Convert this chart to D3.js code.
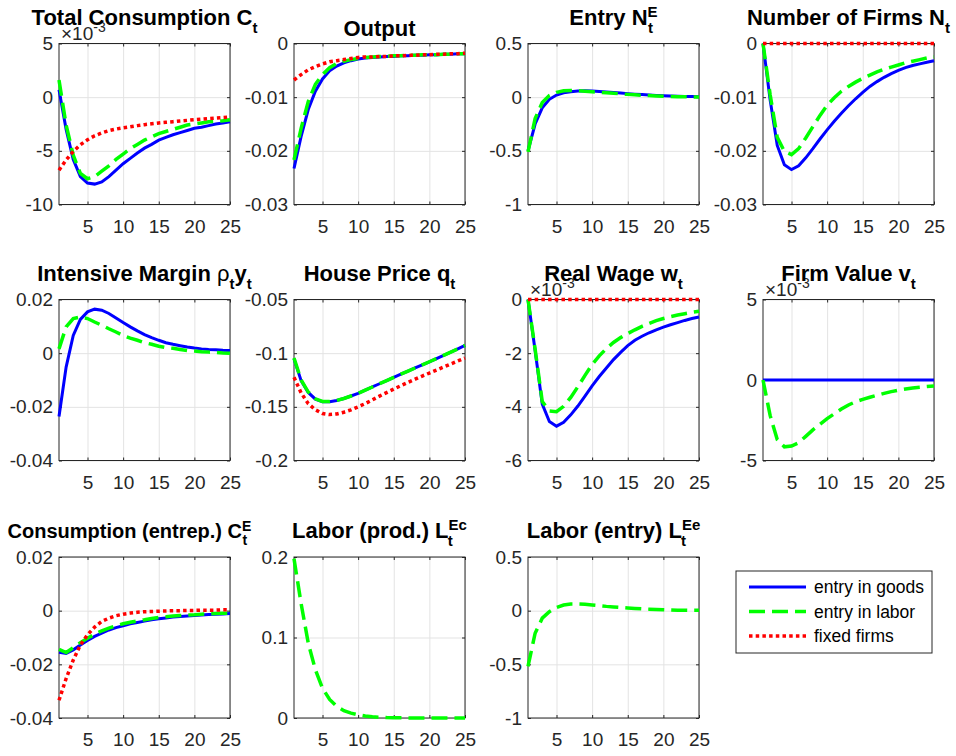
<!DOCTYPE html>
<html lang="en">
<head>
<meta charset="UTF-8">
<title>Impulse responses</title>
<script src="https://cdn.jsdelivr.net/npm/d3@7"></script>
<style>
  body { margin: 0; background: #fff; }
  svg { font-family: "Liberation Sans", Arial, sans-serif; }
  .title { font-weight: bold; fill: #000; }
  .goods { fill: none; stroke: #0000ff; stroke-width: 3; }
  .labor { fill: none; stroke: #00ff00; stroke-width: 3.5; stroke-dasharray: 16 7; }
  .fixed { fill: none; stroke: #ff0000; stroke-width: 3.5; stroke-dasharray: 3.5 3.2; }
</style>
</head>
<body>
<script>
// horizon
const periods = [1,2,3,4,5,6,7,8,9,10,11,12,13,14,15,16,17,18,19,20,21,22,23,24,25];
const xTicks = [5, 10, 15, 20, 25];
const zeros = [0,0,0,0,0,0,0,0,0,0,0,0,0,0,0,0,0,0,0,0,0,0,0,0,0];

// Total consumption (x 1e-3)
const consGoods = [0.7,-3.0,-5.8,-7.4,-8.0,-8.1,-7.9,-7.4,-6.8,-6.2,-5.7,-5.2,-4.75,-4.4,-4.0,-3.75,-3.5,-3.3,-3.1,-2.9,-2.8,-2.65,-2.5,-2.4,-2.3];
const consLabor = [1.6,-2.6,-5.4,-7.1,-7.6,-7.4,-6.9,-6.4,-5.8,-5.3,-4.8,-4.4,-4.0,-3.7,-3.4,-3.2,-3.0,-2.8,-2.6,-2.5,-2.4,-2.3,-2.25,-2.2,-2.1];
const consFixed = [-6.8,-5.85,-5.06,-4.44,-3.97,-3.6,-3.33,-3.12,-2.97,-2.85,-2.75,-2.65,-2.56,-2.48,-2.4,-2.34,-2.28,-2.22,-2.16,-2.1,-2.05,-2.0,-1.95,-1.9,-1.85];
// Output
const outGoods = [-0.0233,-0.0173,-0.0123,-0.0089,-0.0066,-0.0051,-0.0042,-0.0036,-0.0032,-0.0029,-0.0027,-0.0026,-0.0025,-0.0024,-0.0024,-0.0023,-0.0023,-0.0022,-0.0022,-0.0021,-0.0021,-0.0020,-0.0020,-0.0019,-0.0019];
const outLabor = [-0.0217,-0.0158,-0.0108,-0.0076,-0.0058,-0.0045,-0.0037,-0.0033,-0.0030,-0.0028,-0.0026,-0.0025,-0.0024,-0.0024,-0.0023,-0.0023,-0.0022,-0.0022,-0.0021,-0.0021,-0.0021,-0.0020,-0.0020,-0.0019,-0.0019];
const outFixed = [-0.0068,-0.0058,-0.0049,-0.0043,-0.0038,-0.0034,-0.0032,-0.0030,-0.0028,-0.0026,-0.0025,-0.0025,-0.0024,-0.0024,-0.0023,-0.0023,-0.0022,-0.0022,-0.0021,-0.0021,-0.0020,-0.0020,-0.0019,-0.0019,-0.0018];
// Entry
const entryGoods = [-0.5,-0.25,-0.1,-0.02,0.02,0.04,0.05,0.058,0.06,0.057,0.053,0.048,0.043,0.038,0.033,0.028,0.024,0.02,0.016,0.013,0.011,0.009,0.007,0.006,0.005];
const entryLabor = [-0.51,-0.2,-0.05,0.015,0.045,0.06,0.062,0.06,0.056,0.051,0.046,0.041,0.036,0.031,0.026,0.022,0.018,0.015,0.012,0.009,0.007,0.005,0.003,0.002,0.001];
// Number of firms
const firmsGoods = [0,-0.0105,-0.019,-0.0226,-0.0235,-0.0228,-0.0213,-0.0196,-0.0178,-0.0161,-0.0145,-0.0130,-0.0116,-0.0103,-0.0091,-0.0080,-0.0071,-0.0063,-0.0056,-0.0050,-0.0045,-0.0041,-0.0038,-0.0035,-0.0032];
const firmsLabor = [0,-0.0095,-0.0175,-0.0201,-0.0207,-0.0196,-0.0176,-0.0155,-0.0134,-0.0115,-0.0101,-0.0089,-0.0080,-0.0072,-0.0065,-0.0059,-0.0053,-0.0048,-0.0044,-0.0040,-0.0036,-0.0033,-0.0030,-0.0027,-0.0025];
// Intensive margin
const intGoods = [-0.0236,-0.0052,0.0066,0.0126,0.0154,0.0164,0.016,0.0148,0.0131,0.0114,0.0098,0.0083,0.0069,0.0058,0.0048,0.0039,0.0033,0.0028,0.0023,0.0019,0.0016,0.0014,0.0013,0.0011,0.001];
const intLabor = [0.0016,0.0098,0.0129,0.0135,0.0129,0.0116,0.0104,0.0091,0.0079,0.0066,0.0056,0.0048,0.0039,0.0033,0.0026,0.0021,0.0018,0.0014,0.001,0.0008,0.0005,0.0004,0.0003,0.0001,0];
// House price
const houseGoods = [-0.1053,-0.1256,-0.1366,-0.1428,-0.1453,-0.1453,-0.1441,-0.1422,-0.1399,-0.1375,-0.1345,-0.1315,-0.1285,-0.1255,-0.1225,-0.1196,-0.1167,-0.1138,-0.1109,-0.1080,-0.1050,-0.1020,-0.0990,-0.0959,-0.0928];
const houseLabor = [-0.1045,-0.1250,-0.1362,-0.1425,-0.1450,-0.1451,-0.1440,-0.1422,-0.1399,-0.1375,-0.1345,-0.1315,-0.1285,-0.1255,-0.1225,-0.1196,-0.1167,-0.1138,-0.1109,-0.1080,-0.1050,-0.1020,-0.0990,-0.0959,-0.0928];
const houseFixed = [-0.1225,-0.137,-0.147,-0.1528,-0.1562,-0.1572,-0.1566,-0.155,-0.1528,-0.150,-0.147,-0.1435,-0.140,-0.1367,-0.1335,-0.1303,-0.1272,-0.1242,-0.1213,-0.1185,-0.1157,-0.1129,-0.1101,-0.1073,-0.1045];
// Real wage (x 1e-3)
const wageGoods = [0,-1.9,-3.9,-4.55,-4.72,-4.58,-4.3,-3.97,-3.6,-3.22,-2.87,-2.55,-2.24,-1.97,-1.72,-1.52,-1.37,-1.24,-1.13,-1.03,-0.94,-0.86,-0.78,-0.71,-0.65];
const wageLabor = [0,-1.85,-3.8,-4.15,-4.18,-3.98,-3.65,-3.25,-2.83,-2.42,-2.1,-1.83,-1.6,-1.42,-1.27,-1.13,-1.0,-0.89,-0.79,-0.71,-0.64,-0.58,-0.53,-0.48,-0.44];
// Firm value (x 1e-3)
const valueLabor = [0,-2.2,-3.7,-4.15,-4.1,-3.9,-3.5,-3.1,-2.75,-2.4,-2.1,-1.8,-1.55,-1.35,-1.2,-1.07,-0.95,-0.83,-0.72,-0.63,-0.56,-0.5,-0.45,-0.41,-0.38];
// Entrepreneur consumption
const ceGoods = [-0.0155,-0.0159,-0.0146,-0.0128,-0.0111,-0.0096,-0.0084,-0.0072,-0.0063,-0.0056,-0.0049,-0.0044,-0.0039,-0.0034,-0.0030,-0.0027,-0.0024,-0.0022,-0.0020,-0.0018,-0.0016,-0.0014,-0.0013,-0.0012,-0.0011];
const ceLabor = [-0.0144,-0.0156,-0.0138,-0.0119,-0.0103,-0.0088,-0.0075,-0.0065,-0.0056,-0.0049,-0.0043,-0.0038,-0.0034,-0.0029,-0.0025,-0.0023,-0.0020,-0.0018,-0.0016,-0.0015,-0.0013,-0.0012,-0.0011,-0.0010,-0.0009];
const ceFixed = [-0.0334,-0.0253,-0.0184,-0.0128,-0.009,-0.0061,-0.004,-0.0028,-0.0019,-0.0013,-0.0009,-0.0006,-0.0004,-0.0003,-0.0002,-0.0001,0,0,0.0001,0.0001,0.0002,0.0002,0.0002,0.0003,0.0003];
// Labor
const lecLabor = [0.198,0.142,0.093,0.06,0.037,0.023,0.0145,0.009,0.006,0.004,0.0025,0.0015,0.001,0.0006,0.0004,0.0002,0.0001,0,0,0,0,0,0,0,0];
const leeLabor = [-0.52,-0.21,-0.07,-0.01,0.03,0.053,0.062,0.062,0.059,0.053,0.047,0.04,0.035,0.03,0.025,0.021,0.017,0.014,0.011,0.009,0.007,0.005,0.004,0.003,0.003];

const legendLabels = ['entry in goods', 'entry in labor', 'fixed firms'];

// one entry per subplot, built from the arrays above
const panels = [
  {title: [{t: 'Total Consumption C'}, {sub: 't'}], ticks: [-10, -5, 0, 5], exp: true, goods: consGoods, labor: consLabor, fixed: consFixed},
  {title: [{t: 'Output'}], plain: true, ticks: [-0.03, -0.02, -0.01, 0], goods: outGoods, labor: outLabor, fixed: outFixed},
  {title: [{t: 'Entry N'}, {sup: 'E', sub: 't'}], ticks: [-1, -0.5, 0, 0.5], goods: entryGoods, labor: entryLabor},
  {title: [{t: 'Number of Firms N'}, {sub: 't'}], ticks: [-0.03, -0.02, -0.01, 0], goods: firmsGoods, labor: firmsLabor, fixed: zeros},
  {title: [{t: 'Intensive Margin\u00a0'}, {t: 'ρ', sym: true}, {sub: 't'}, {t: 'y'}, {sub: 't'}], ticks: [-0.04, -0.02, 0, 0.02], goods: intGoods, labor: intLabor},
  {title: [{t: 'House Price q'}, {sub: 't'}], ticks: [-0.2, -0.15, -0.1, -0.05], goods: houseGoods, labor: houseLabor, fixed: houseFixed},
  {title: [{t: 'Real Wage w'}, {sub: 't'}], ticks: [-6, -4, -2, 0], exp: true, goods: wageGoods, labor: wageLabor, fixed: zeros},
  {title: [{t: 'Firm Value v'}, {sub: 't'}], ticks: [-5, 0, 5], exp: true, goods: zeros, labor: valueLabor},
  {title: [{t: 'Consumption (entrep.) C'}, {sup: 'E', sub: 't'}], titleSize: 20, titleShift: -15, ticks: [-0.04, -0.02, 0, 0.02], goods: ceGoods, labor: ceLabor, fixed: ceFixed},
  {title: [{t: 'Labor (prod.) L'}, {sup: 'Ec', sub: 't'}], ticks: [0, 0.1, 0.2], labor: lecLabor},
  {title: [{t: 'Labor (entry) L'}, {sup: 'Ee', sub: 't'}], ticks: [-1, -0.5, 0, 0.5], labor: leeLabor}
];

const colX = [59, 294, 528, 763];
const rowY = [43.5, 299.5, 557];
const pw = 171, ph = 161;
const ink = '#262626';
const fontFam = '"Liberation Sans", Arial, sans-serif';

const fmt = v => String(Math.round(v * 1e6) / 1e6);

// title as one centred text; scripts are tspans, sub tucked under sup
function drawTitle(svg, cx, baseY, p) {
  const size = p.titleSize || 22, small = Math.round(size * 0.68);
  const shift = Math.round(size * 0.37);
  const txt = svg.append('text').attr('class', 'title')
    .attr('x', cx + (p.titleShift || 0)).attr('y', baseY)
    .attr('text-anchor', 'middle').attr('font-size', size);
  let level = 0;
  p.title.forEach(part => {
    if (part.t) {
      txt.append('tspan').attr('dy', -level).attr('font-weight', part.sym ? 'normal' : null).text(part.t);
      level = 0;
    } else {
      if (part.sup) {
        txt.append('tspan').attr('dy', -shift - level).attr('font-size', small).text(part.sup);
        level = -shift;
      }
      if (part.sub) {
        const back = part.sup ? -part.sup.length * small * 0.64 : 0;
        txt.append('tspan').attr('dx', back).attr('dy', shift - level).attr('font-size', small).text(part.sub);
        level = shift;
      }
    }
  });
}

const svg = d3.select('body').append('svg')
  .attr('width', 956).attr('height', 756);

panels.forEach((p, i) => {
  const left = colX[i % 4], top = rowY[Math.floor(i / 4)];
  const g = svg.append('g').attr('transform', `translate(${left},${top})`);

  const x = d3.scaleLinear().domain([1, 25]).range([0, pw]);
  const y = d3.scaleLinear().domain(d3.extent(p.ticks)).range([ph, 0]);

  // grid
  g.append('g').attr('transform', `translate(0,${ph})`)
    .call(d3.axisBottom(x).tickValues(xTicks).tickSize(-ph).tickFormat(''))
    .call(a => a.select('.domain').remove())
    .call(a => a.selectAll('line').attr('stroke', '#e3e3e3'));
  g.append('g')
    .call(d3.axisLeft(y).tickValues(p.ticks).tickSize(-pw).tickFormat(''))
    .call(a => a.select('.domain').remove())
    .call(a => a.selectAll('line').attr('stroke', '#e3e3e3'));

  // axes, inward ticks on all four sides
  const styleAxis = a => {
    a.select('.domain').remove();
    a.selectAll('line').attr('stroke', ink);
    a.selectAll('text').attr('fill', ink).attr('font-size', 19).attr('font-family', fontFam);
  };
  g.append('g').attr('transform', `translate(0,${ph})`)
    .call(d3.axisBottom(x).tickValues(xTicks).tickSizeInner(-3).tickSizeOuter(0).tickPadding(15).tickFormat(fmt))
    .call(styleAxis);
  g.append('g')
    .call(d3.axisLeft(y).tickValues(p.ticks).tickSizeInner(-3).tickSizeOuter(0).tickPadding(6).tickFormat(fmt))
    .call(styleAxis);
  g.append('g')
    .call(d3.axisTop(x).tickValues(xTicks).tickSizeInner(-3).tickSizeOuter(0).tickFormat(''))
    .call(styleAxis);
  g.append('g').attr('transform', `translate(${pw},0)`)
    .call(d3.axisRight(y).tickValues(p.ticks).tickSizeInner(-3).tickSizeOuter(0).tickFormat(''))
    .call(styleAxis);
  g.append('rect').attr('width', pw).attr('height', ph)
    .attr('fill', 'none').attr('stroke', ink).attr('stroke-width', 1);

  if (p.exp) {
    const e = g.append('text').attr('x', 2).attr('y', -4)
      .attr('fill', ink).attr('font-size', 19).text('×10');
    e.append('tspan').attr('dy', -8).attr('font-size', 14).text('-3');
  }

  const line = d3.line().x((d, j) => x(periods[j])).y(d => y(d));
  if (p.goods) g.append('path').datum(p.goods).attr('class', 'goods').attr('d', line);
  if (p.labor) g.append('path').datum(p.labor).attr('class', 'labor').attr('d', line);
  if (p.fixed) g.append('path').datum(p.fixed).attr('class', 'fixed').attr('d', line);

  drawTitle(svg, left + pw / 2, top - (p.plain ? 8 : 19), p);
});

// legend
const lg = svg.append('g').attr('transform', 'translate(736,571)');
lg.append('rect').attr('width', 196).attr('height', 82)
  .attr('fill', '#fff').attr('stroke', ink).attr('stroke-width', 1);
const lgY = d3.scalePoint().domain(legendLabels).range([16, 65]);
['goods', 'labor', 'fixed'].forEach((c, k) => {
  const yy = lgY(legendLabels[k]);
  lg.append('line').attr('class', c).attr('x1', 13).attr('x2', 70).attr('y1', yy).attr('y2', yy);
  lg.append('text').attr('x', 78).attr('y', yy).attr('dy', '0.35em')
    .attr('font-size', 17.5).attr('fill', '#000').text(legendLabels[k]);
});
</script>
</body>
</html>
